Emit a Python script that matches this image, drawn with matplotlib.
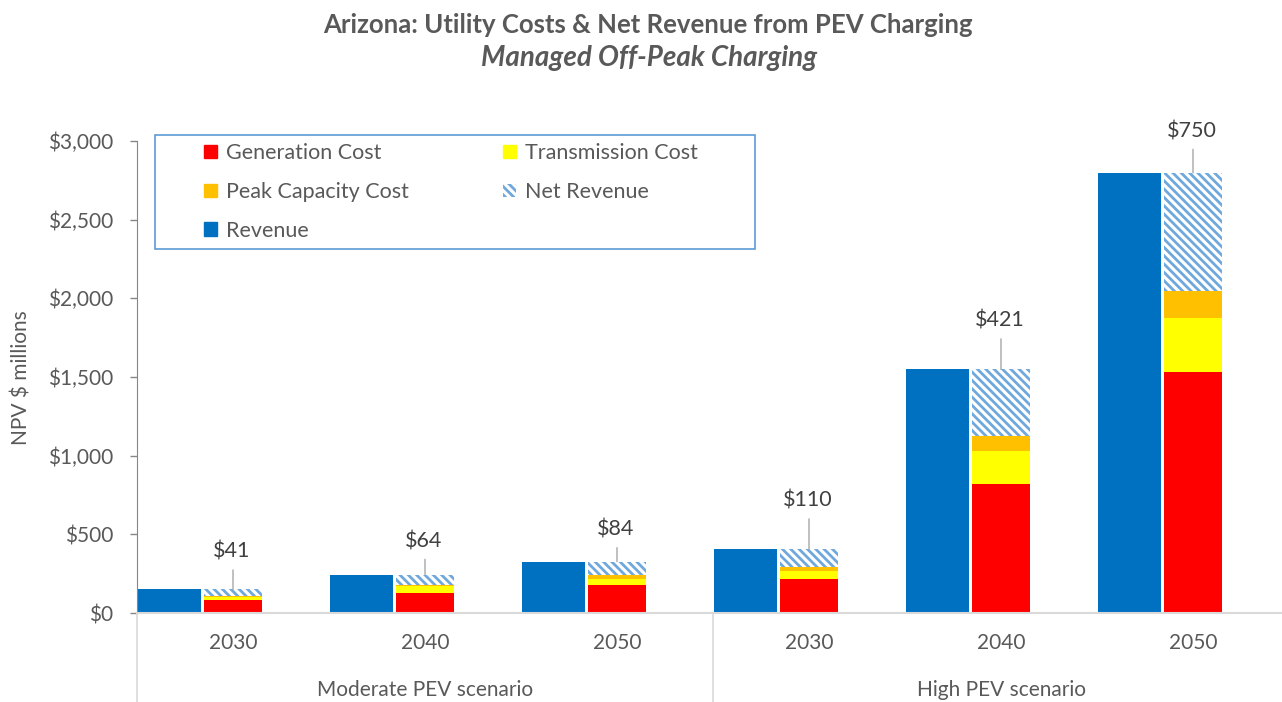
import numpy as np
import matplotlib
matplotlib.use('Agg')
import matplotlib.pyplot as plt
from matplotlib.patches import Patch
from matplotlib.transforms import blended_transform_factory

# Data (NPV $ millions)
scenarios = ['Moderate PEV scenario', 'High PEV scenario']
years = ['2030', '2040', '2050', '2030', '2040', '2050']
revenue = [150, 244, 327, 404, 1548, 2797]
gen_cost = [81, 127, 176, 216, 822, 1530]
trans_cost = [19, 47, 40, 51, 210, 345]
peak_cost = [9, 6, 27, 27, 95, 172]
net_revenue = [41, 64, 84, 110, 421, 750]
net_labels = ['$41', '$64', '$84', '$110', '$421', '$750']

# leader line lengths above the hatched bars (points)
leader_len = [14, 11, 10, 22, 22, 17]

c_rev = '#0070C0'
c_gen = '#FF0000'
c_trans = '#FFFF00'
c_peak = '#FFC000'
c_net = '#6FA8DC'
txt = '#595959'
hatch = '\\\\\\\\'

plt.rcParams['font.family'] = ['Lato', 'DejaVu Sans']
plt.rcParams['hatch.linewidth'] = 2.0

fig = plt.figure(figsize=(12.82, 7.02), dpi=100)
ax = fig.add_axes([137 / 1282, 1 - 613 / 702, (1289 - 137) / 1282, (613 - 141) / 702])

x = np.arange(len(years))
w_rev = 0.33
w_stk = 0.297

ax.bar(x - 0.497, revenue, width=w_rev, align='edge', color=c_rev, linewidth=0)
bottom = np.zeros(len(x))
for vals, col in [(gen_cost, c_gen), (trans_cost, c_trans), (peak_cost, c_peak)]:
    ax.bar(x, vals, width=w_stk, bottom=bottom, color=col, linewidth=0)
    bottom += np.array(vals)
ax.bar(x, net_revenue, width=w_stk, bottom=bottom, color='white',
       edgecolor=c_net, hatch=hatch, linewidth=0)
tops = bottom + np.array(net_revenue)

fs = 15
for i in range(len(x)):
    ax.annotate('', xy=(x[i], tops[i]), xytext=(0, leader_len[i]),
                textcoords='offset points',
                arrowprops=dict(arrowstyle='-', color='#A6A6A6', lw=1,
                                shrinkA=0, shrinkB=0))
    ax.annotate(net_labels[i], xy=(x[i], tops[i]),
                xytext=(-1, leader_len[i] + 13), textcoords='offset points',
                ha='center', va='center', fontsize=15.5, color='#404040')

ax.set_xlim(-0.5, 5.5)
ax.set_ylim(0, 3000)
yt = np.arange(0, 3001, 500)
ax.set_yticks(yt)
ax.set_yticklabels(['${:,}'.format(v) for v in yt])
ax.tick_params(axis='y', length=5, width=1, color='#868686', pad=12,
               labelsize=fs, labelcolor=txt)
ax.set_xticks([])
for s in ['top', 'right']:
    ax.spines[s].set_visible(False)
ax.spines['left'].set_color('#868686')
ax.spines['bottom'].set_color('#D9D9D9')
ax.spines['bottom'].set_linewidth(1.5)

# two level category axis
tr = blended_transform_factory(ax.transData, ax.transAxes)
for i, yr in enumerate(years):
    ax.text(x[i], -0.0636, yr, transform=tr, ha='center', va='center',
            fontsize=fs, color=txt)
for g, name in enumerate(scenarios):
    ax.text(3 * g + 1, -0.163, name, transform=tr, ha='center', va='center',
            fontsize=fs, color=txt)
for xb in [-0.5, 2.5, 5.5]:
    ax.plot([xb, xb], [0, -0.19], transform=tr, color='#D9D9D9', lw=1.2,
            clip_on=False)

fig.text(22 / 1282, 1 - 378 / 702, 'NPV $ millions', rotation=90,
         ha='center', va='center', fontsize=fs, color=txt)
fig.text(648 / 1282, 1 - 25 / 702, 'Arizona: Utility Costs & Net Revenue from PEV Charging',
         ha='center', va='center', fontsize=18.5, fontweight='bold', color=txt)
fig.text(649 / 1282, 1 - 58 / 702, 'Managed Off-Peak Charging',
         ha='center', va='center', fontsize=20, fontweight='bold',
         style='italic', color=txt)

# legend: frame drawn separately, entries placed inside
frame = plt.Rectangle((155 / 1282, 1 - 249 / 702), 600 / 1282, 114 / 702,
                      transform=fig.transFigure, fill=False,
                      edgecolor='#5B9BD5', lw=1.2)
fig.patches.append(frame)
handles = [Patch(color=c_gen), Patch(color=c_peak), Patch(color=c_rev),
           Patch(color=c_trans),
           Patch(facecolor='white', edgecolor=c_net, hatch=hatch, lw=0)]
labels = ['Generation Cost', 'Peak Capacity Cost', 'Revenue',
          'Transmission Cost', 'Net Revenue']
fig.legend(handles, labels, ncol=2, loc='upper left',
           bbox_to_anchor=(204 / 1282, 1 - 143 / 702), frameon=False,
           fontsize=15.5, handlelength=0.6, handleheight=0.6,
           handletextpad=0.4, labelspacing=0.88, columnspacing=4.4,
           borderpad=0, borderaxespad=0, labelcolor=txt)

fig.savefig('out.png', dpi=100)
